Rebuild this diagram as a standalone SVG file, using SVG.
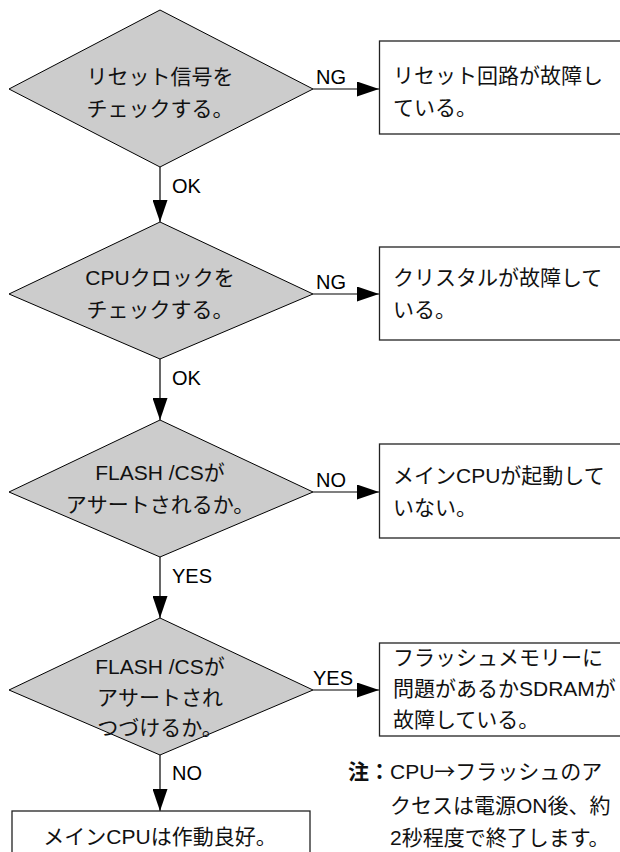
<svg xmlns="http://www.w3.org/2000/svg" width="620" height="852" viewBox="0 0 620 852">
<defs>
<marker id="arr" markerUnits="userSpaceOnUse" markerWidth="22" markerHeight="15" refX="22" refY="7.5" orient="auto">
<path d="M0,0 L22,7.5 L0,15 Z" fill="#000"/>
</marker>
<style>
.dia{fill:#cccccc;stroke:#000;stroke-width:1}
.box{fill:#fff;stroke:#222;stroke-width:1.3}
.t{font-family:"Liberation Sans","Noto Sans CJK JP",sans-serif;font-size:21px;fill:#111}
.c{text-anchor:middle}
.lbl{font-family:"Liberation Sans",Arial,sans-serif;font-size:20px;fill:#000}
.ln{stroke:#000;stroke-width:1.2;fill:none;marker-end:url(#arr)}
</style>
</defs>
<rect width="620" height="852" fill="#fff"/>

<g id="connectors">
<line class="ln" x1="160" y1="167" x2="160" y2="222"/>
<line class="ln" x1="160" y1="359" x2="160" y2="420"/>
<line class="ln" x1="160" y1="557" x2="160" y2="618"/>
<line class="ln" x1="160" y1="755" x2="160" y2="811"/>
<line class="ln" x1="313" y1="89" x2="379" y2="89"/>
<line class="ln" x1="313" y1="294" x2="379" y2="294"/>
<line class="ln" x1="313" y1="492" x2="379" y2="492"/>
<line class="ln" x1="313" y1="690" x2="379" y2="690"/>
<text class="lbl" x="316" y="84">NG</text>
<text class="lbl" x="316" y="289">NG</text>
<text class="lbl" x="316" y="487">NO</text>
<text class="lbl" x="313" y="685">YES</text>
<text class="lbl" x="172" y="193">OK</text>
<text class="lbl" x="172" y="385">OK</text>
<text class="lbl" x="172" y="583">YES</text>
<text class="lbl" x="172" y="780">NO</text>
</g>

<g id="d1">
<polygon class="dia" points="160,10 313,89 160,167 9,89"/>
<text class="t c" x="160" y="84">リセット信号を</text>
<text class="t c" x="160" y="116">チェックする。</text>
</g>

<g id="b1">
<rect class="box" x="379.5" y="41" width="245" height="93"/>
<text class="t" x="393" y="83">リセット回路が故障し</text>
<text class="t" x="393" y="115">ている。</text>
</g>

<g id="d2">
<polygon class="dia" points="160,222 313,294 160,359 9,294"/>
<text class="t c" x="160" y="285">CPUクロックを</text>
<text class="t c" x="160" y="317">チェックする。</text>
</g>

<g id="b2">
<rect class="box" x="379.5" y="247" width="245" height="93"/>
<text class="t" x="393" y="285">クリスタルが故障して</text>
<text class="t" x="393" y="317">いる。</text>
</g>

<g id="d3">
<polygon class="dia" points="160,420 313,492 160,557 9,492"/>
<text class="t c" x="160" y="480">FLASH /CSが</text>
<text class="t c" x="160" y="512">アサートされるか。</text>
</g>

<g id="b3">
<rect class="box" x="379.5" y="444" width="245" height="94"/>
<text class="t" x="393" y="483">メインCPUが起動して</text>
<text class="t" x="393" y="515">いない。</text>
</g>

<g id="d4">
<polygon class="dia" points="160,618 313,690 160,755 9,690"/>
<text class="t c" x="160" y="674">FLASH /CSが</text>
<text class="t c" x="160" y="705">アサートされ</text>
<text class="t c" x="160" y="735">つづけるか。</text>
</g>

<g id="b4">
<rect class="box" x="379.5" y="643" width="245" height="93"/>
<text class="t" x="393" y="665">フラッシュメモリーに</text>
<text class="t" x="393" y="696">問題があるかSDRAMが</text>
<text class="t" x="393" y="727">故障している。</text>
</g>

<g id="b5">
<rect class="box" x="12" y="811" width="298" height="60"/>
<text class="t c" x="160" y="844">メインCPUは作動良好。</text>
</g>

<g id="note">
<text class="t" x="348" y="779"><tspan font-weight="bold">注：</tspan>CPU<tspan font-family="Noto Sans CJK JP, sans-serif">→</tspan>フラッシュのア</text>
<text class="t" x="390" y="813">クセスは電源ON後、約</text>
<text class="t" x="390" y="845">2秒程度で終了します。</text>
</g>
</svg>
